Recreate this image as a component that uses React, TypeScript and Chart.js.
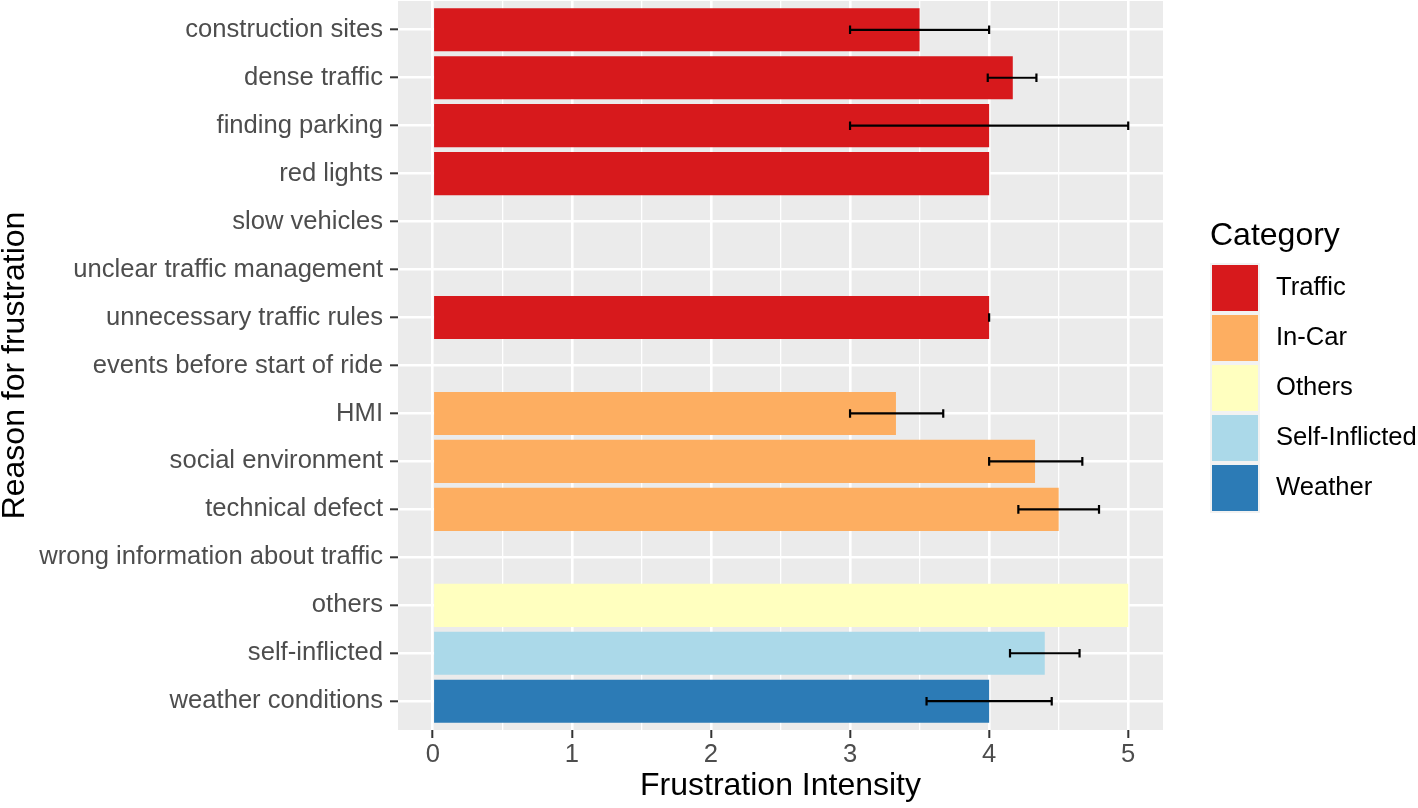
import React, { useEffect, useRef } from 'react';
import { Chart, registerables } from 'chart.js';

Chart.register(...registerables);

// ---------- data ----------
const reasons = [
  'construction sites',
  'dense traffic',
  'finding parking',
  'red lights',
  'slow vehicles',
  'unclear traffic management',
  'unnecessary traffic rules',
  'events before start of ride',
  'HMI',
  'social environment',
  'technical defect',
  'wrong information about traffic',
  'others',
  'self-inflicted',
  'weather conditions',
];

const reasonGroup = [
  'Traffic', 'Traffic', 'Traffic', 'Traffic', 'Traffic', 'Traffic', 'Traffic', 'Traffic',
  'In-Car', 'In-Car', 'In-Car', 'In-Car',
  'Others', 'Self-Inflicted', 'Weather',
];

const meanIntensity: (number | null)[] = [3.5, 4.17, 4.0, 4.0, null, null, 4.0, null, 3.33, 4.33, 4.5, null, 5.0, 4.4, 4.0];
const errorLow: (number | null)[] = [3.0, 3.99, 3.0, null, null, null, 4.0, null, 3.0, 4.0, 4.21, null, null, 4.15, 3.55];
const errorHigh: (number | null)[] = [4.0, 4.34, 5.0, null, null, null, 4.0, null, 3.67, 4.67, 4.79, null, null, 4.65, 4.45];

const groupNames = ['Traffic', 'In-Car', 'Others', 'Self-Inflicted', 'Weather'];
const groupColors = ['#D7191C', '#FDAE61', '#FFFFBF', '#ABD9E9', '#2C7BB6'];

const xMajorTicks = [0, 1, 2, 3, 4, 5];
const xMinorTicks = [0.5, 1.5, 2.5, 3.5, 4.5];
const xLimits = [-0.25, 5.25];
const yExpand = 0.6;
const errorCapWidth = 0.18;

const FONT = "'Liberation Sans', Arial, Helvetica, sans-serif";

// ---------- plugins ----------
const panelBackground = {
  id: 'panelBackground',
  beforeDraw(chart: any) {
    const { ctx, chartArea } = chart;
    ctx.save();
    ctx.fillStyle = '#EBEBEB';
    ctx.fillRect(chartArea.left, chartArea.top, chartArea.right - chartArea.left, chartArea.bottom - chartArea.top);
    ctx.restore();
  },
};

const errorBars = {
  id: 'errorBars',
  afterDatasetsDraw(chart: any) {
    const { ctx } = chart;
    const xs = chart.scales.x;
    const ys = chart.scales.y;
    ctx.save();
    ctx.strokeStyle = '#000000';
    ctx.lineWidth = 2.2;
    ctx.lineCap = 'butt';
    reasons.forEach((_, i) => {
      const lo = errorLow[i];
      const hi = errorHigh[i];
      if (lo == null || hi == null) return;
      const yc = ys.getPixelForValue(i);
      const half = Math.abs(ys.getPixelForValue(i + errorCapWidth / 2) - yc);
      const x1 = xs.getPixelForValue(lo);
      const x2 = xs.getPixelForValue(hi);
      ctx.beginPath();
      ctx.moveTo(x1, yc);
      ctx.lineTo(x2, yc);
      ctx.moveTo(x1, yc - half);
      ctx.lineTo(x1, yc + half);
      ctx.moveTo(x2, yc - half);
      ctx.lineTo(x2, yc + half);
      ctx.stroke();
    });
    ctx.restore();
  },
};

const ggLegend = {
  id: 'ggLegend',
  afterDraw(chart: any) {
    const { ctx } = chart;
    const left = 1210;
    const keySize = 50;
    const firstKeyTop = 263;
    ctx.save();
    ctx.fillStyle = '#000000';
    ctx.textAlign = 'left';
    ctx.textBaseline = 'alphabetic';
    ctx.font = `32px ${FONT}`;
    ctx.fillText('Category', left, 245);
    groupNames.forEach((name, i) => {
      const top = firstKeyTop + keySize * i;
      ctx.fillStyle = '#F2F2F2';
      ctx.fillRect(left, top, keySize, keySize);
      ctx.fillStyle = groupColors[i];
      ctx.fillRect(left + 2, top + 2, keySize - 4, keySize - 4);
      ctx.fillStyle = '#000000';
      ctx.font = `25.6px ${FONT}`;
      ctx.textBaseline = 'middle';
      ctx.fillText(name, 1276, top + keySize / 2);
    });
    ctx.restore();
  },
};

const isMinor = (v: number) => xMinorTicks.includes(v);

export default function App() {
  const canvasRef = useRef<HTMLCanvasElement>(null);

  useEffect(() => {
    if (!canvasRef.current) return;
    const points: { x: number; y: number }[] = [];
    const colors: string[] = [];
    meanIntensity.forEach((v, i) => {
      if (v == null) return;
      points.push({ x: v, y: i });
      colors.push(groupColors[groupNames.indexOf(reasonGroup[i])]);
    });

    const chart = new Chart(canvasRef.current, {
      type: 'bar',
      data: {
        datasets: [
          {
            data: points as any,
            backgroundColor: colors,
            borderWidth: 0,
            barPercentage: 0.9,
            categoryPercentage: 1,
          },
        ],
      },
      plugins: [panelBackground, errorBars, ggLegend],
      options: {
        animation: false,
        responsive: false,
        devicePixelRatio: 1,
        indexAxis: 'y',
        layout: { padding: { top: 1, right: 255, bottom: 0, left: 0 } },
        plugins: {
          legend: { display: false },
          tooltip: { enabled: false },
        },
        scales: {
          x: {
            type: 'linear',
            position: 'bottom',
            offset: false,
            min: xLimits[0],
            max: xLimits[1],
            afterBuildTicks: (s: any) => {
              s.ticks = [...xMajorTicks, ...xMinorTicks].sort((a, b) => a - b).map((v) => ({ value: v }));
            },
            afterFit: (s: any) => {
              s.height = 78;
              s.paddingLeft = 0;
              s.paddingRight = 0;
              s.paddingTop = 0;
              s.paddingBottom = 0;
            },
            grid: {
              offset: false,
              color: '#FFFFFF',
              lineWidth: (c: any) => (c.tick && isMinor(c.tick.value) ? 1.3 : 2.6),
              drawTicks: true,
              tickLength: 8,
              tickWidth: 2,
              tickColor: (c: any) => (c.tick && isMinor(c.tick.value) ? 'rgba(0,0,0,0)' : '#333333'),
            },
            border: { display: false },
            ticks: {
              autoSkip: false,
              maxRotation: 0,
              padding: 2,
              color: '#4D4D4D',
              font: { family: FONT, size: 25.6 },
              callback: (v: any) => (xMajorTicks.includes(Number(v)) ? String(v) : ''),
            },
            title: {
              display: true,
              text: 'Frustration Intensity',
              color: '#000000',
              font: { family: FONT, size: 32, lineHeight: '30px' },
              padding: { top: 0, bottom: 7 },
            },
          },
          y: {
            type: 'linear',
            position: 'left',
            reverse: true,
            offset: false,
            min: -yExpand,
            max: reasons.length - 1 + yExpand,
            afterBuildTicks: (s: any) => {
              s.ticks = reasons.map((_, i) => ({ value: i }));
            },
            afterFit: (s: any) => {
              s.width = 398;
              s.paddingLeft = 0;
              s.paddingRight = 0;
              s.paddingTop = 0;
              s.paddingBottom = 0;
            },
            grid: {
              offset: false,
              color: '#FFFFFF',
              lineWidth: 2.6,
              drawTicks: true,
              tickLength: 8,
              tickWidth: 2,
              tickColor: '#333333',
            },
            border: { display: false },
            ticks: {
              autoSkip: false,
              padding: 7,
              color: '#4D4D4D',
              font: { family: FONT, size: 25.6 },
              callback: (v: any) => reasons[Number(v)] ?? '',
            },
            title: {
              display: true,
              text: 'Reason for frustration',
              color: '#000000',
              font: { family: FONT, size: 32, lineHeight: '30px' },
              padding: { top: 0, bottom: 0 },
            },
          },
        },
      } as any,
    });
    return () => chart.destroy();
  }, []);

  return (
    <div style={{ position: 'fixed', left: 0, top: 0, width: 1418, height: 808, background: '#FFFFFF' }}>
      <canvas ref={canvasRef} width={1418} height={808} style={{ display: 'block' }} />
    </div>
  );
}
